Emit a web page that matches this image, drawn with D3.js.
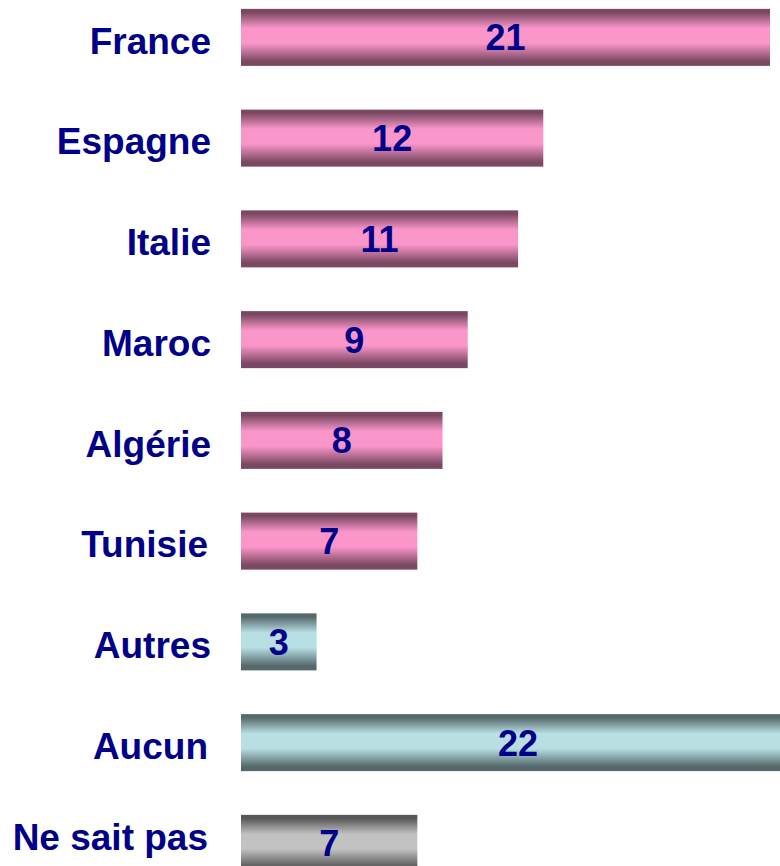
<!DOCTYPE html>
<html>
<head>
<meta charset="utf-8">
<script src="https://cdn.jsdelivr.net/npm/d3@7"></script>
<style>
body{margin:0;background:#fff;overflow:hidden;}
</style>
</head>
<body>
<svg id="chart"></svg>
<script>
var width=780;
var height=866;

// données
var categories=['France','Espagne','Italie','Maroc','Algérie','Tunisie','Autres','Aucun','Ne sait pas'];
var values=[21,12,11,9,8,7,3,22,7];
var groups=['pays','pays','pays','pays','pays','pays','autre','autre','nsp'];

var palette={
    pays:{dark:'#7a4862',light:'#fb96ca'},
    autre:{dark:'#55696c',light:'#b8dfe3'},
    nsp:{dark:'#575757',light:'#c2c2c2'}
};

var data=categories.map(function(c,i){
    return {cat:c,val:values[i],grp:groups[i]};
});

var svg=d3.select('#chart')
    .attr('width',width)
    .attr('height',height);

var defs=svg.append('defs');
Object.keys(palette).forEach(function(k){
    var g=defs.append('linearGradient')
        .attr('id','grad-'+k)
        .attr('x1',0).attr('y1',0).attr('x2',0).attr('y2',1);
    [[0,'dark'],[0.06,'dark'],[0.34,'light'],[0.6,'light'],[0.92,'dark'],[1,'dark']].forEach(function(s){
        g.append('stop').attr('offset',s[0]).attr('stop-color',palette[k][s[1]]);
    });
});

var x0=241;
var xScale=d3.scaleLinear()
    .domain([0,21])
    .range([x0,770]);

var step=100.75;
var yScale=d3.scaleBand()
    .domain(categories)
    .range([-13,-13+step*categories.length])
    .paddingInner(0.434)
    .paddingOuter(0.217);

var bars=svg.append('g');

bars.selectAll('rect')
    .data(data)
    .enter()
    .append('rect')
    .attr('x',xScale(0))
    .attr('y',function(d){return yScale(d.cat);})
    .attr('width',function(d){return xScale(d.val)-xScale(0);})
    .attr('height',yScale.bandwidth())
    .attr('fill',function(d){return 'url(#grad-'+d.grp+')';});

// valeurs au centre des barres
bars.selectAll('text.val')
    .data(data)
    .enter()
    .append('text')
    .attr('class','val')
    .attr('x',function(d){return (xScale(0)+xScale(d.val))/2;})
    .attr('y',function(d){return yScale(d.cat)+yScale.bandwidth()/2;})
    .attr('dy','0.36em')
    .attr('text-anchor','middle')
    .attr('font-family','"Liberation Sans", Arial, sans-serif')
    .attr('font-weight','bold')
    .attr('font-size','36px')
    .attr('fill','#000088')
    .text(function(d){return d.val;});

// libellés (le dernier remonte un peu pour rester dans le cadre)
svg.append('g')
    .selectAll('text')
    .data(data)
    .enter()
    .append('text')
    .attr('x',function(d,i){return i>=7||i==5?208:211;})
    .attr('y',function(d,i){
        var c=yScale(d.cat)+yScale.bandwidth()/2+3;
        return i==categories.length-1?c-10:c;
    })
    .attr('dy','0.36em')
    .attr('text-anchor','end')
    .attr('font-family','"Liberation Sans", Arial, sans-serif')
    .attr('font-weight','bold')
    .attr('font-size','37px')
    .attr('fill','#000088')
    .text(function(d){return d.cat;});
</script>
</body>
</html>
